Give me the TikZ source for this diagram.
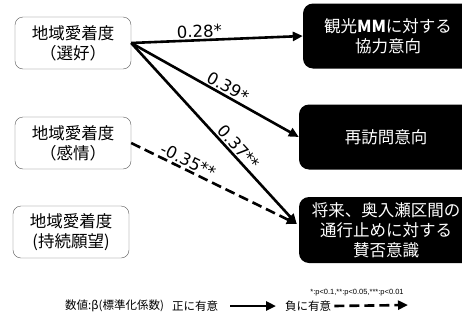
\documentclass[tikz,border=0pt]{standalone}
\usepackage{fontspec}
\setmainfont{Noto Sans CJK JP}
\newfontfamily\numfont{DejaVu Sans}
\newfontfamily\pfont{Liberation Sans}
\usetikzlibrary{arrows.meta}

\begin{document}
\begin{tikzpicture}[
x=1pt, y=-1pt,
   attach/.style = {rectangle, rounded corners=8pt, draw=gray!70!black,
                    fill=white, align=center, inner sep=0pt,
                    minimum width=116pt, minimum height=52pt,
                    font=\fontsize{16.5}{20}\selectfont},
   intent/.style = {rectangle, rounded corners=10pt, fill=black,
                    text=white, align=center, inner sep=0pt,
                    minimum width=174pt, minimum height=65pt,
                    font=\fontsize{16.5}{20}\selectfont},
     coef/.style = {font=\numfont\fontsize{16.5}{18}\selectfont,
                    sloped, above=1pt, inner sep=0.5pt},
   effect/.style = {line width=2.6pt, -{Triangle[length=10pt,width=9pt]}},
 negative/.style = {effect, dash pattern=on 10pt off 5pt},
   legend/.style = {font=\fontsize{11.5}{13}\selectfont, inner sep=0pt,
                    anchor=west},
                        ]
\clip (0,0) rectangle (462,324);
% attachment factors
\node[attach] (pref) at (73,43)  {地域愛着度\\（選好）};
\node[attach] (emo)  at (73,143) {地域愛着度\\（感情）};
\node[attach] (cont) at (71,232) {地域愛着度\\(持続願望)};
% intentions
\node[intent, minimum width=170pt] (mm) at (388,36)
      {観光\textbf{MM}に対する\\協力意向};
\node[intent] (rev) at (386,137) {再訪問意向};
\node[intent, minimum height=66pt] (ban) at (386,230)
      {将来、奥入瀬区間の\\通行止めに対する\\賛否意識};
% paths
\draw[effect] (pref.east) -- node[coef, pos=0.4]  {0.28*} (mm.west);
\draw[effect] (pref.east) -- node[coef, pos=0.55] {0.39*} (rev.west);
\draw[effect] (pref.east) -- node[coef, pos=0.61] {0.37**}
      ([xshift=-2pt, yshift=6pt]ban.west);
\draw[negative] (emo.east) -- node[coef, pos=0.32] {-0.35**}
      ([xshift=-2pt, yshift=6pt]ban.west);
% legend
\node[font=\pfont\fontsize{7.5}{9}\selectfont, inner sep=0pt]
      (sig) at (357,293) {*:p<0.1,**:p<0.05,***:p<0.01};
\node[legend] (beta) at (65,306)  {数値:β(標準化係数)};
\node[legend] (pos)  at (172,306) {正に有意};
\node[legend] (neg)  at (285,306) {負に有意};
\coordinate (dend) at (408,305);
\draw[effect]   ([xshift=12pt]pos.east) -- ([xshift=-9pt]neg.west);
\draw[negative] ([xshift=3pt]neg.east) -- (dend);
\end{tikzpicture}
\end{document}
